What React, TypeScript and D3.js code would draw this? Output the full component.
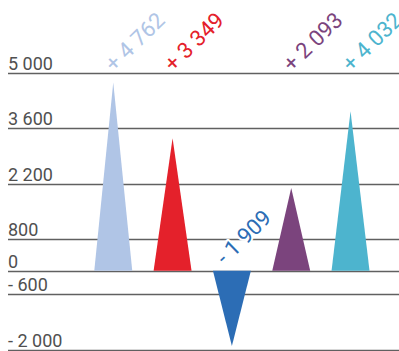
import React from "react";
import * as d3 from "d3";

const categories = ["A", "B", "C", "D", "E"];
const values = [4762, 3349, -1909, 2093, 4032];
const valueLabels = ["+ 4 762", "+ 3 349", "- 1 909", "+ 2 093", "+ 4 032"];
const colors = ["#b0c5e6", "#e4212b", "#2c6db5", "#7b447d", "#4db4ce"];
const tickValues = [5000, 3600, 2200, 800, 0, -600, -2000];
const tickLabels = ["5 000", "3 600", "2 200", "800", "0", "- 600", "- 2 000"];

const W = 399;
const H = 351;

export default function App() {
  const y = d3.scaleLinear().domain([-2000, 5000]).range([349.7, 73.0]);
  const x = d3.scaleBand<string>().domain(categories).range([83.6, 380.2]).padding(0);
  const triW = x.step() * 0.64;
  const font = "Roboto, sans-serif";
  return (
    <svg
      width={W}
      height={H}
      style={{ position: "absolute", left: 0, top: 0, display: "block" }}
    >
      <rect width={W} height={H} fill="#fff" />
      {tickValues.map((t, i) => (
        <g key={t}>
          <line
            x1={8}
            x2={W}
            y1={Math.round(y(t)) + 0.5}
            y2={Math.round(y(t)) + 0.5}
            stroke="#606060"
            strokeWidth={1.3}
          />
          <text
            x={8}
            y={y(t) - 3}
            fontFamily={font}
            fontSize={18}
            fill="#505050"
          >
            {tickLabels[i]}
          </text>
        </g>
      ))}
      {categories.map((c, i) => {
        const cx = (x(c) as number) + x.step() / 2;
        const v = values[i];
        const path = d3.path();
        path.moveTo(cx - triW / 2, y(0));
        path.lineTo(cx, y(v));
        path.lineTo(cx + triW / 2, y(0));
        path.closePath();
        return <path key={c} d={path.toString()} fill={colors[i]} />;
      })}
      {categories.map((c, i) => {
        const cx = (x(c) as number) + x.step() / 2;
        const v = values[i];
        const ax = v >= 0 ? cx + 0.5 : cx - 7;
        const ay = v >= 0 ? y(5000) - 0.5 : y(0) - 5;
        return (
          <text
            key={c}
            transform={`translate(${ax},${ay}) rotate(-44)`}
            fontFamily={font}
            fontSize={22}
            fill={colors[i]}
            stroke="#fff"
            strokeWidth={4}
            strokeLinejoin="round"
            style={{ paintOrder: "stroke" }}
          >
            {valueLabels[i]}
          </text>
        );
      })}
    </svg>
  );
}
